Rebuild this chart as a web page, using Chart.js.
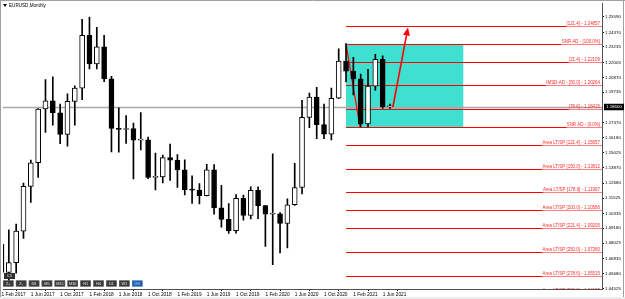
<!DOCTYPE html>
<html>
<head>
<meta charset="utf-8">
<title>EURUSD,Monthly</title>
<script src="https://cdn.jsdelivr.net/npm/chart.js@4.4.1/dist/chart.umd.min.js"></script>
<style>
  html, body { margin: 0; padding: 0; background: #fff; }
</style>
</head>
<body>
<canvas id="myChart" width="625" height="299"></canvas>
<script>
// Monthly EURUSD candles, index 0 = Feb 2017 ... index 53 = Jul 2021
const opens  = [1.0795, 1.0575, 1.0652, 1.0896, 1.1243, 1.1426, 1.1843, 1.1907, 1.1813, 1.1645, 1.1902,
                1.2005, 1.2414, 1.2193, 1.2324, 1.2076, 1.1693, 1.1684, 1.1690, 1.1601, 1.1604, 1.1312, 1.1317,
                1.1466, 1.1445, 1.1371, 1.1217, 1.1214, 1.1170, 1.1372, 1.1076, 1.0987, 1.0899, 1.1151, 1.1017,
                1.1213, 1.1093, 1.1027, 1.1029, 1.0955, 1.1100, 1.1234, 1.1778, 1.1935, 1.1721, 1.1647, 1.1926,
                1.2215, 1.2136, 1.2076, 1.1727, 1.2020, 1.2228, 1.1859];
const highs  = [1.0829, 1.0906, 1.0951, 1.1268, 1.1446, 1.1846, 1.2070, 1.2092, 1.1880, 1.1961, 1.2023,
                1.2537, 1.2556, 1.2476, 1.2414, 1.2096, 1.1852, 1.1791, 1.1733, 1.1815, 1.1625, 1.1500, 1.1486,
                1.1570, 1.1489, 1.1448, 1.1324, 1.1265, 1.1413, 1.1412, 1.1250, 1.1110, 1.1179, 1.1176, 1.1239,
                1.1239, 1.1095, 1.1495, 1.1040, 1.1147, 1.1422, 1.1909, 1.1966, 1.2011, 1.1881, 1.2004, 1.2310,
                1.2349, 1.2243, 1.2113, 1.2150, 1.2266, 1.2254, 1.1880];
const lows   = [1.0494, 1.0494, 1.0570, 1.0839, 1.1118, 1.1312, 1.1662, 1.1717, 1.1574, 1.1554, 1.1718,
                1.1915, 1.2153, 1.2154, 1.2055, 1.1510, 1.1508, 1.1575, 1.1301, 1.1526, 1.1302, 1.1216, 1.1269,
                1.1289, 1.1234, 1.1176, 1.1110, 1.1107, 1.1168, 1.1028, 1.0926, 1.0879, 1.0880, 1.0981, 1.0990,
                1.0992, 1.0778, 1.0636, 1.0727, 1.0766, 1.1095, 1.1185, 1.1697, 1.1612, 1.1612, 1.1603, 1.1922,
                1.2053, 1.1952, 1.1704, 1.1704, 1.1986, 1.1847, 1.1848];
const closes = [1.0575, 1.0652, 1.0896, 1.1243, 1.1426, 1.1843, 1.1907, 1.1813, 1.1645, 1.1902, 1.2005,
                1.2414, 1.2193, 1.2324, 1.2076, 1.1693, 1.1684, 1.1690, 1.1601, 1.1604, 1.1312, 1.1317, 1.1466,
                1.1445, 1.1371, 1.1217, 1.1214, 1.1170, 1.1372, 1.1076, 1.0987, 1.0899, 1.1151, 1.1017, 1.1213,
                1.1093, 1.1027, 1.1029, 1.0955, 1.1100, 1.1234, 1.1778, 1.1935, 1.1721, 1.1647, 1.1926, 1.2215,
                1.2136, 1.2076, 1.1727, 1.2020, 1.2228, 1.1859, 1.1860];

// time axis labels (every 4 months)
const tickMonths = [0, 4, 8, 12, 16, 20, 24, 28, 32, 36, 40, 44, 48, 52];
const tickLabels = ["1 Feb 2017", "1 Jun 2017", "1 Oct 2017", "1 Feb 2018", "1 Jun 2018", "1 Oct 2018",
                    "1 Feb 2019", "1 Jun 2019", "1 Oct 2019", "1 Feb 2020", "1 Jun 2020", "1 Oct 2020",
                    "1 Feb 2021", "1 Jun 2021"];

// price axis labels
const priceTicks = [1.25590, 1.24370, 1.23235, 1.22005, 1.20870, 1.19735, 1.17370, 1.16180, 1.15025,
                    1.13870, 1.12680, 1.11525, 1.10335, 1.09180, 1.08025, 1.06835, 1.05680, 1.04525];
const lastPrice = 1.18600;

// fibo style levels drawn from Jan 2021 to the right edge
const levelPrices = [1.24857, 1.23478, 1.22109, 1.20264, 1.18415, 1.17026, 1.15657, 1.13812, 1.11967,
                     1.10586, 1.09205, 1.07360, 1.05515, 1.04133];
const levelLabels = ["[121.4] - 1.24857", "SNR AD - [100.0%]", "[21.4] - 1.22109", "IMSD-AD - [50.0] - 1.20264",
                     "[78.6] - 1.18415", "SNR AD - [0.0%]", "Area LT/SP [121.4] - 1.15657",
                     "Area LT/SP [150.0] - 1.13812", "Area LT/SP [178.6] - 1.11967", "Area LT/SP [200.0] - 1.10586",
                     "Area LT/SP [221.4] - 1.09205", "Area LT/SP [250.0] - 1.07360", "Area LT/SP [278.6] - 1.05515",
                     "Area LT/SP [300.0] - 1.04133"];
const levelStart = 47;

// turquoise zone (month index, price)
const boxTime  = [47, 63];
const boxPrice = [1.23478, 1.17026];

// red trend line and arrow (month index, price)
const trendFrom = [47, 1.23478], trendTo = [48.9, 1.1705];
const arrowFrom = [53.4, 1.1860], arrowTo = [55.45, 1.2474];

const FONT = '"Liberation Sans", Arial, sans-serif';

const wickData = highs.map((h, i) => ({ x: i, y: [lows[i], h] }));
const bodyData = opens.map((o, i) => ({ x: i, y: [Math.min(o, closes[i]), Math.max(o, closes[i])] }));
const bodyColors = opens.map((o, i) => closes[i] >= o ? '#ffffff' : '#000000');

function seg(ctx, x0, y0, x1, y1) {
  ctx.beginPath(); ctx.moveTo(x0, y0); ctx.lineTo(x1, y1); ctx.stroke();
}

const overlay = {
  id: 'overlay',
  beforeDatasetsDraw(chart) {
    const { ctx, chartArea: a, scales: { x, y } } = chart;
    ctx.save();
    ctx.beginPath(); ctx.rect(a.left, a.top, a.right - a.left, a.bottom - a.top); ctx.clip();

    // zone
    const bx0 = x.getPixelForValue(boxTime[0]), bx1 = x.getPixelForValue(boxTime[1]);
    const by0 = y.getPixelForValue(boxPrice[0]), by1 = y.getPixelForValue(boxPrice[1]);
    ctx.fillStyle = '#40e0d0';
    ctx.fillRect(bx0, by0, bx1 - bx0, by1 - by0);

    // current price line
    ctx.strokeStyle = '#a8a8a8'; ctx.lineWidth = 1.3;
    const py = Math.round(y.getPixelForValue(lastPrice)) + 0.5;
    seg(ctx, a.left, py, a.right, py);

    // levels
    ctx.font = '4.45px ' + FONT;
    ctx.textAlign = 'right'; ctx.textBaseline = 'bottom';
    const lx = x.getPixelForValue(levelStart);
    levelPrices.forEach((p, k) => {
      const ly = Math.round(y.getPixelForValue(p)) + 0.5;
      const tw = ctx.measureText(levelLabels[k]).width;
      const tx = a.right - 2;
      ctx.lineWidth = 1.1;
      ctx.strokeStyle = '#ff0000';
      seg(ctx, lx, ly, tx - tw, ly);
      ctx.strokeStyle = '#ff8080';
      seg(ctx, tx - tw, ly, a.right, ly);
      ctx.fillStyle = '#ff2a2a';
      ctx.fillText(levelLabels[k], tx, ly - 0.5);
    });

    // trend line
    ctx.strokeStyle = '#ff0000'; ctx.lineWidth = 1.3;
    seg(ctx, x.getPixelForValue(trendFrom[0]), y.getPixelForValue(trendFrom[1]),
             x.getPixelForValue(trendTo[0]), y.getPixelForValue(trendTo[1]));
    ctx.restore();
  },
  afterDatasetsDraw(chart) {
    const { ctx, scales: { x, y } } = chart;
    const x0 = x.getPixelForValue(arrowFrom[0]), y0 = y.getPixelForValue(arrowFrom[1]);
    const x1 = x.getPixelForValue(arrowTo[0]), y1 = y.getPixelForValue(arrowTo[1]);
    const ang = Math.atan2(y1 - y0, x1 - x0);
    ctx.save();
    ctx.strokeStyle = '#ff0000'; ctx.fillStyle = '#ff0000'; ctx.lineWidth = 1.6;
    const hl = 8, hw = 3.5;
    const bxp = x1 - hl * Math.cos(ang), byp = y1 - hl * Math.sin(ang);
    seg(ctx, x0, y0, bxp, byp);
    ctx.beginPath();
    ctx.moveTo(x1, y1);
    ctx.lineTo(bxp + hw * Math.sin(ang), byp - hw * Math.cos(ang));
    ctx.lineTo(bxp - hw * Math.sin(ang), byp + hw * Math.cos(ang));
    ctx.closePath(); ctx.fill();
    ctx.restore();
  },
  afterDraw(chart) {
    const { ctx, chartArea: a, scales: { y } } = chart;
    ctx.save();
    // frame
    ctx.strokeStyle = '#a0a0a0'; ctx.lineWidth = 1;
    seg(ctx, 0, 0.5, 625, 0.5);
    seg(ctx, 0.5, 0, 0.5, 299);
    seg(ctx, 623.5, 0, 623.5, 299);
    ctx.fillStyle = '#ececec';
    ctx.fillRect(0, 297, 625, 2);

    // last price tag
    const py = y.getPixelForValue(lastPrice);
    ctx.fillStyle = '#000';
    ctx.fillRect(a.right + 2, py - 3, 20, 6.5);
    ctx.fillStyle = '#fff';
    ctx.font = '4.4px ' + FONT;
    ctx.textAlign = 'left'; ctx.textBaseline = 'middle';
    ctx.fillText(lastPrice.toFixed(5), a.right + 4, py + 0.3);

    // title
    ctx.fillStyle = '#000';
    ctx.beginPath(); ctx.moveTo(3, 4); ctx.lineTo(7, 4); ctx.lineTo(5, 7); ctx.closePath(); ctx.fill();
    ctx.font = '4.6px ' + FONT;
    ctx.fillText('EURUSD,Monthly', 9, 5.5);

    // period toolbar
    const btns = ['Z+', 'Z-', 'M1', 'M5', 'M15', 'M30', 'H1', 'H4', 'D1', 'W1', 'MN'];
    ctx.font = '3.8px ' + FONT;
    ctx.textAlign = 'center';
    btns.forEach((b, k) => {
      const bx = 3 + k * 12.9, by = 280.5;
      const sel = b === 'MN';
      ctx.fillStyle = sel ? '#1f5fa6' : '#3a3a3a';
      ctx.fillRect(bx, by, 10.5, 6);
      ctx.strokeStyle = sel ? '#5a8fd0' : '#6a6a6a';
      ctx.lineWidth = 0.5;
      ctx.strokeRect(bx + 0.25, by + 0.25, 10, 5.5);
      ctx.fillStyle = sel ? '#9cc4f0' : '#e8e8e8';
      ctx.fillText(b, bx + 5.25, by + 3.2);
    });
    ctx.fillStyle = '#2e2e2e';
    ctx.fillRect(4, 273, 11, 6);
    ctx.fillStyle = '#e8e8e8';
    ctx.fillText('C5', 9.5, 276.2);
    ctx.restore();
  }
};

const ctx = document.getElementById('myChart').getContext('2d');
const chart = new Chart(ctx, {
  type: 'bar',
  data: {
    datasets: [
      { label: 'wick', data: wickData, backgroundColor: '#000', barThickness: 1, grouped: false, order: 2 },
      { label: 'body', data: bodyData, backgroundColor: bodyColors, borderColor: '#000', borderWidth: 1,
        borderSkipped: false, barThickness: 5, grouped: false, minBarLength: 1, order: 1 }
    ]
  },
  options: {
    responsive: false,
    animation: false,
    layout: { padding: { left: 3, top: 2, right: 0, bottom: 0 } },
    plugins: { legend: { display: false }, tooltip: { enabled: false }, title: { display: false } },
    scales: {
      x: {
        type: 'linear',
        offset: false,
        min: 0.205,
        max: 81.92,
        afterBuildTicks: (s) => { s.ticks = tickMonths.map(v => ({ value: v })); },
        afterFit: (s) => { s.height = 10; },
        grid: { drawOnChartArea: false, tickLength: 2, color: '#000' },
        border: { color: '#505050' },
        ticks: {
          autoSkip: false, maxRotation: 0, align: 'start', padding: 0.5, color: '#000',
          font: { family: FONT, size: 4.8 },
          callback: (v, i) => tickLabels[i]
        }
      },
      y: {
        type: 'linear',
        position: 'right',
        min: 1.04471,
        max: 1.26596,
        afterBuildTicks: (s) => { s.ticks = priceTicks.map(v => ({ value: v })); },
        afterFit: (s) => { s.width = 23; },
        grid: { drawOnChartArea: false, tickLength: 2, color: '#000' },
        border: { color: '#505050' },
        ticks: {
          autoSkip: false, padding: 1, color: '#000',
          font: { family: FONT, size: 4.4 },
          callback: (v) => Number(v).toFixed(5)
        }
      }
    }
  },
  plugins: [overlay]
});
</script>
</body>
</html>
